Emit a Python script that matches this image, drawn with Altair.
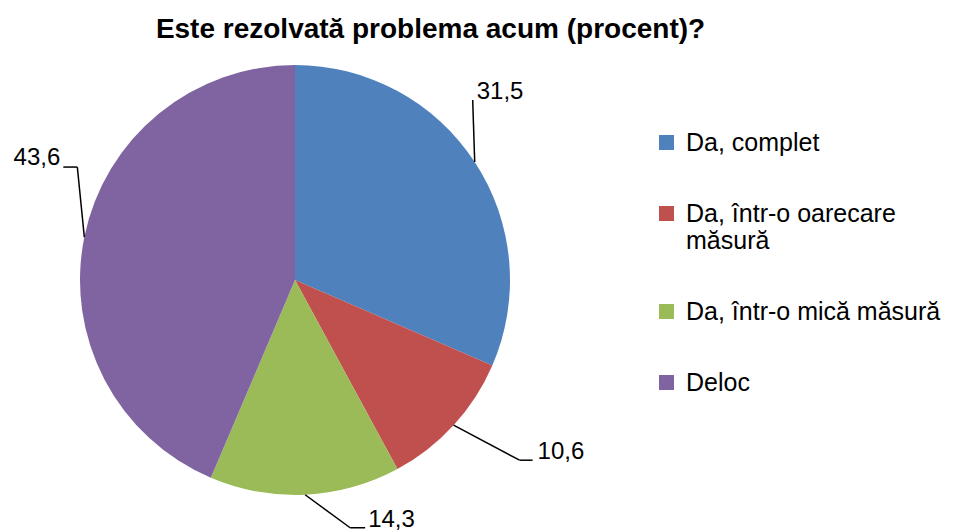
import altair as alt
import pandas as pd

# ---- data ----
categories = ["Da, complet", "Da, într-o oarecare măsură", "Da, într-o mică măsură", "Deloc"]
values = [31.5, 10.6, 14.3, 43.6]
value_labels = ["31,5", "10,6", "14,3", "43,6"]
colors = ["#4F81BD", "#C0504D", "#9BBB59", "#8064A2"]

# ---- leader-line layout (style: pixel offsets relative to the slice edge) ----
elbow_dx = [-2, 66, 45, -7]
elbow_dy = [-62, 35, 33, -70]
tail_dx = [0, 13, 15, -14]
text_dx = [4, 5, 3, -3]
text_dy = [-8, -8, -8, -9]
text_side = ["left", "left", "left", "right"]

W, H = 939, 524
CX, CY, R = 287, 272, 215

df = pd.DataFrame({
    "category": categories,
    "value": values,
    "label": value_labels,
    "order": list(range(len(categories))),
    "edx": elbow_dx, "edy": elbow_dy, "tail": tail_dx,
    "tdx": text_dx, "tdy": text_dy, "side": text_side,
})

base = alt.Chart(df)

legend = alt.Legend(
    title=None, orient="none", legendX=646, legendY=122,
    symbolType="square", symbolSize=225, symbolStrokeWidth=0,
    labelFont="Liberation Sans", labelFontSize=25, labelColor="black",
    labelOffset=7, labelLimit=500, rowPadding=45, padding=0,
    labelExpr="datum.label == 'Da, într-o oarecare măsură' ? ['Da, într-o oarecare', 'măsură'] : datum.label",
)

pie = base.mark_arc(outerRadius=R).encode(
    theta=alt.Theta("value:Q", stack=True),
    color=alt.Color("category:N", scale=alt.Scale(domain=categories, range=colors),
                    sort=categories, legend=legend),
    order=alt.Order("order:Q"),
    x=alt.value(CX),
    y=alt.value(CY),
)

geo = base.transform_joinaggregate(
    total="sum(value)"
).transform_window(
    cum="sum(value)", sort=[alt.SortField("order")], frame=[None, 0]
).transform_calculate(
    mid="2*PI*(datum.cum - datum.value/2)/datum.total"
).transform_calculate(
    ax=f"{CX} + {R}*sin(datum.mid)",
    ay=f"{CY} - {R}*cos(datum.mid)",
).transform_calculate(
    ex="datum.ax + datum.edx",
    ey="datum.ay + datum.edy",
).transform_calculate(
    tx="datum.ex + datum.tail",
).transform_calculate(
    lx="datum.tx + datum.tdx",
    ly="datum.ey + datum.tdy",
)

seg1 = geo.mark_rule(color="black", strokeWidth=1.5).encode(
    x=alt.X("ax:Q", scale=None, axis=None),
    y=alt.Y("ay:Q", scale=None, axis=None),
    x2="ex:Q", y2="ey:Q",
)
seg2 = geo.mark_rule(color="black", strokeWidth=1.5).encode(
    x=alt.X("ex:Q", scale=None, axis=None),
    y=alt.Y("ey:Q", scale=None, axis=None),
    x2="tx:Q", y2="ey:Q",
)

txt_left = geo.transform_filter("datum.side == 'left'").mark_text(
    align="left", baseline="middle", font="Liberation Sans", fontSize=24, color="black"
).encode(
    x=alt.X("lx:Q", scale=None, axis=None),
    y=alt.Y("ly:Q", scale=None, axis=None),
    text="label:N",
)
txt_right = geo.transform_filter("datum.side == 'right'").mark_text(
    align="right", baseline="middle", font="Liberation Sans", fontSize=24, color="black"
).encode(
    x=alt.X("lx:Q", scale=None, axis=None),
    y=alt.Y("ly:Q", scale=None, axis=None),
    text="label:N",
)

chart = alt.layer(pie, seg1, seg2, txt_left, txt_right).properties(
    width=W, height=H,
    autosize=alt.AutoSizeParams(type="none"),
    padding=0,
    background="white",
    title=alt.TitleParams(
        text="Este rezolvată problema acum (procent)?",
        font="Liberation Sans", fontSize=28, fontWeight="bold", color="black",
        anchor="middle", frame="group", dx=-47, offset=-58, baseline="alphabetic",
    ),
).configure_view(stroke=None)

chart.save("out.html", embed_options={"renderer": "svg", "actions": False})
